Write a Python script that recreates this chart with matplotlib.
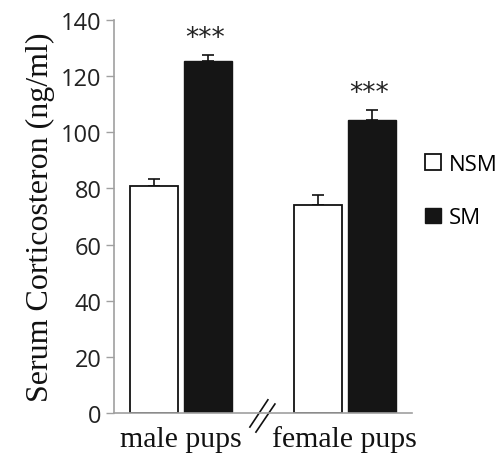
# serum corticosterone bar chart, male vs female pups
import numpy as np
import matplotlib.pyplot as plt

groups = ['male pups', 'female pups']
series = ['NSM', 'SM']
nsm_vals = [81.0, 74.0]
nsm_err = [2.2, 3.5]
sm_vals = [125.3, 104.3]
sm_err = [2.2, 3.7]
stars = ['***', '***']

plt.rcParams['font.family'] = ['Open Sans', 'DejaVu Sans']

fig = plt.figure(figsize=(5.01, 4.56), dpi=100)
ax = fig.add_axes([0.2275, 0.0921, 0.5948, 0.8618])

x = np.arange(len(groups))
w = 0.293
off = 0.165

b1 = ax.bar(x - off, nsm_vals, w, color='white', edgecolor='#111111', linewidth=1.3,
            label=series[0], zorder=2)
b2 = ax.bar(x + off, sm_vals, w, color='#151515', edgecolor='#151515', linewidth=1.0,
            label=series[1], zorder=2)
ax.errorbar(x - off, nsm_vals, yerr=[np.zeros(2), nsm_err], fmt='none', ecolor='#111111',
            elinewidth=1.2, capsize=4, capthick=1.2, zorder=1)
ax.errorbar(x + off, sm_vals, yerr=[np.zeros(2), sm_err], fmt='none', ecolor='#111111',
            elinewidth=1.2, capsize=4, capthick=1.2, zorder=1)

# asteriscos
for i in range(len(groups)):
    ax.text(x[i] + off - 0.02, sm_vals[i] + sm_err[i] + 1.5, stars[i], ha='center', va='bottom',
            fontsize=19, color='#222222', family='DejaVu Sans')

ax.set_xlim(-0.41, 1.41)
ax.set_ylim(0, 140)
ax.set_yticks(np.arange(0, 141, 20))
ax.set_xticks(x)
ax.set_xticklabels(groups, family='Liberation Serif', fontsize=21.5, color='#111111')
ax.tick_params(axis='x', length=0, pad=9)
ax.tick_params(axis='y', length=6, width=1, color='#a0a0a0', labelsize=17,
               labelcolor='#222222', pad=3)
for s in ['top', 'right']:
    ax.spines[s].set_visible(False)
for s in ['left', 'bottom']:
    ax.spines[s].set_color('#a0a0a0')
    ax.spines[s].set_linewidth(1.2)

ax.set_ylabel('Serum Corticosteron (ng/ml)', family='Liberation Serif', fontsize=23,
              color='#111111', labelpad=4)

# marca de corte en el eje x
ax.plot([0.42, 0.53], [-5, 4.7], color='#111111', lw=1.2, clip_on=False)
ax.plot([0.457, 0.573], [-6.8, 3.2], color='#111111', lw=1.2, clip_on=False)

ax.legend(handles=[b1, b2], loc='upper left', bbox_to_anchor=(0.848, 0.66),
          bbox_transform=fig.transFigure, frameon=False, fontsize=16,
          handlelength=0.72, handleheight=0.72, handletextpad=0.35, labelspacing=1.45,
          borderaxespad=0, borderpad=0)

fig.savefig('out.png', dpi=100)
